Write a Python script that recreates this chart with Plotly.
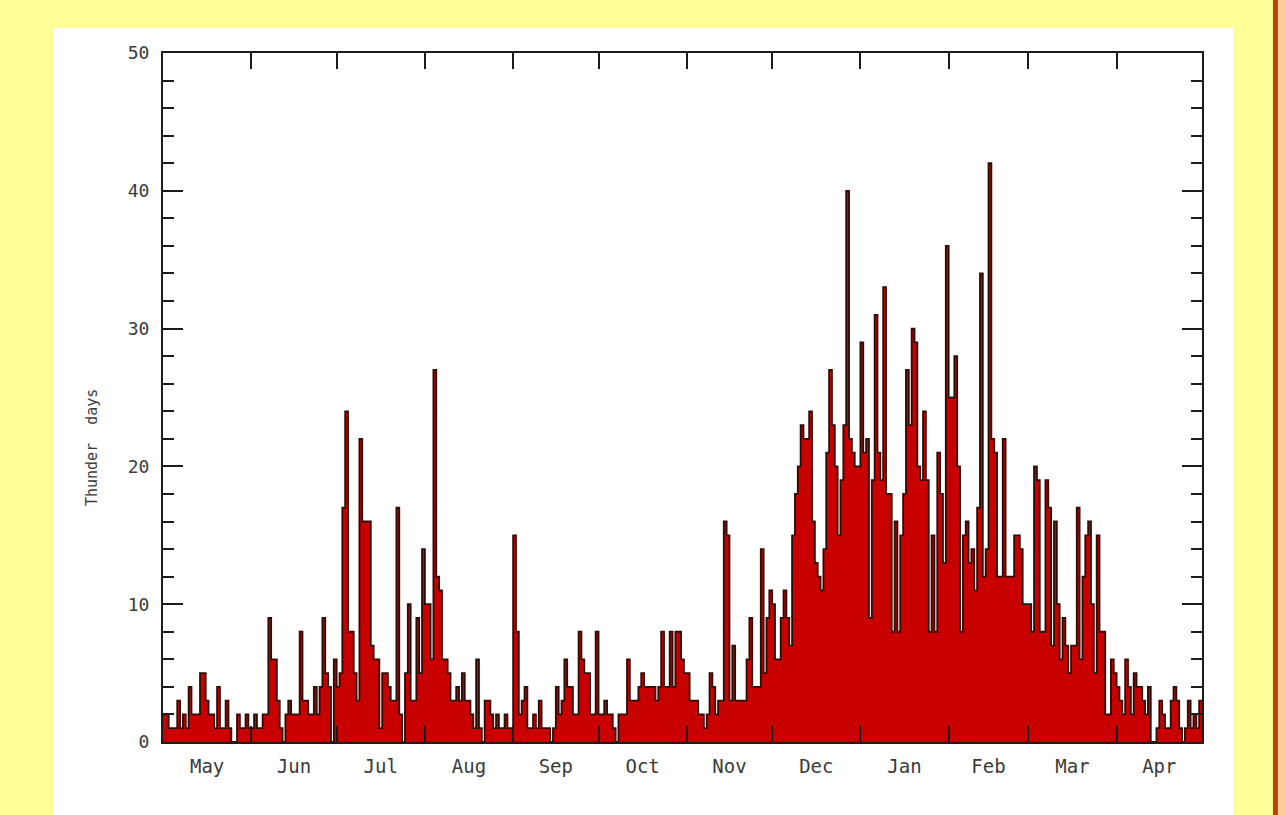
import plotly.graph_objects as go

# Daily thunder-day counts, 1 May .. 30 April
may = [2,2,1,1,1,3,1,2,1,4,2,2,2,5,5,3,2,2,1,4,1,1,3,1,0,0,2,1,1,2,1]
jun = [1,2,1,1,2,2,9,6,6,3,1,0,2,3,2,2,2,8,3,3,2,2,4,2,4,9,5,4,0,6]
jul = [4,5,17,24,8,8,5,3,22,16,16,16,7,6,6,1,5,5,4,3,3,17,2,0,5,10,3,3,9,5,14]
aug = [10,10,6,27,12,11,6,6,5,3,3,4,3,5,3,3,2,1,6,1,0,3,3,2,1,2,1,1,2,1,1]
sep = [15,8,2,3,4,1,1,2,1,3,1,1,1,0,1,4,2,3,6,4,4,2,2,8,6,5,5,2,2,8]
oct_ = [2,2,3,2,2,1,0,2,2,2,6,3,3,3,4,5,4,4,4,4,3,4,8,4,4,8,4,8,8,6,5]
nov = [5,3,3,3,2,2,1,2,5,4,2,3,3,16,15,3,7,3,3,3,3,6,9,4,4,4,14,5,9,11]
dec = [10,6,6,9,11,9,7,15,18,20,23,22,22,24,16,13,12,11,14,21,27,23,20,15,19,23,40,22,21,20,20]
jan = [29,21,22,9,19,31,21,19,33,18,18,8,16,8,15,18,27,23,30,29,20,19,24,19,8,15,8,21,18,13,36]
feb = [25,25,28,20,8,15,16,13,14,11,17,34,12,14,42,22,21,12,12,22,12,12,12,15,15,14,10,10]
mar = [10,8,20,19,8,8,19,17,7,16,10,6,9,7,5,7,7,17,6,12,15,16,10,5,15,8,8,2,2,6,5]
apr = [4,3,2,6,4,2,5,4,4,3,2,4,0,0,1,3,2,1,1,3,4,3,1,0,1,3,1,2,1,3]

month_names = ["May", "Jun", "Jul", "Aug", "Sep", "Oct",
               "Nov", "Dec", "Jan", "Feb", "Mar", "Apr"]
months = [may, jun, jul, aug, sep, oct_, nov, dec, jan, feb, mar, apr]

counts = [v for m in months for v in m]
n_days = len(counts)

# month boundaries and centres in day units
bounds = [0]
for m in months:
    bounds.append(bounds[-1] + len(m))
centres = [(a + b) / 2 for a, b in zip(bounds[:-1], bounds[1:])]

edges = list(range(n_days + 1))
step_y = counts + [counts[-1]]

AXIS = "#1c1c1c"
TXT = "#3a3a3a"
FONT = "DejaVu Sans Mono"

fig = go.Figure()
fig.add_trace(go.Scatter(
    x=edges, y=step_y, mode="lines", line_shape="hv",
    line=dict(color="#2e0c06", width=1.8),
    fill="tozeroy", fillcolor="#c80000",
    hoverinfo="skip", showlegend=False,
))

fig.update_layout(
    width=1285, height=815,
    margin=dict(l=163, r=83, t=53, b=73),
    paper_bgcolor="#ffff99",
    plot_bgcolor="#fdf5cc",
    showlegend=False,
    xaxis=dict(
        range=[0, n_days], showgrid=False, zeroline=False,
        showline=True, linecolor=AXIS, linewidth=2, mirror="ticks",
        tickmode="array", tickvals=centres, ticktext=month_names,
        ticks="inside", ticklen=0, tickcolor=AXIS,
        ticklabelstandoff=6,
        tickfont=dict(family=FONT, size=19, color=TXT),
        minor=dict(tickmode="array", tickvals=bounds[1:-1],
                   ticks="inside", ticklen=16, tickwidth=1.6, tickcolor=AXIS),
    ),
    yaxis=dict(
        range=[0, 50], showgrid=False, zeroline=False,
        showline=True, linecolor=AXIS, linewidth=2, mirror="ticks",
        tickmode="linear", tick0=0, dtick=10,
        ticks="inside", ticklen=20, tickwidth=2, tickcolor=AXIS,
        ticklabelstandoff=8,
        tickfont=dict(family=FONT, size=18, color=TXT),
        minor=dict(dtick=2, ticks="inside", ticklen=11, tickwidth=2, tickcolor=AXIS),
    ),
    shapes=[
        dict(type="rect", xref="paper", yref="paper", layer="below",
             x0=-0.1059, x1=1.0298, y0=-0.2, y1=1.0363,
             fillcolor="#ffffff", line=dict(width=0)),
        dict(type="rect", xref="paper", yref="paper", layer="below",
             x0=1.0683, x1=1.0731, y0=-0.2, y1=1.2,
             fillcolor="#b5420c", line=dict(width=0)),
        dict(type="rect", xref="paper", yref="paper", layer="below",
             x0=1.0731, x1=1.09, y0=-0.2, y1=1.2,
             fillcolor="#ffcc99", line=dict(width=0)),
    ],
    annotations=[
        dict(text="Thunder  days", xref="paper", yref="paper",
             x=-0.0683, y=0.4267, xanchor="center", yanchor="middle",
             textangle=-90, showarrow=False,
             font=dict(family=FONT, size=15, color=TXT)),
    ],
)

fig.write_html("out.html")
